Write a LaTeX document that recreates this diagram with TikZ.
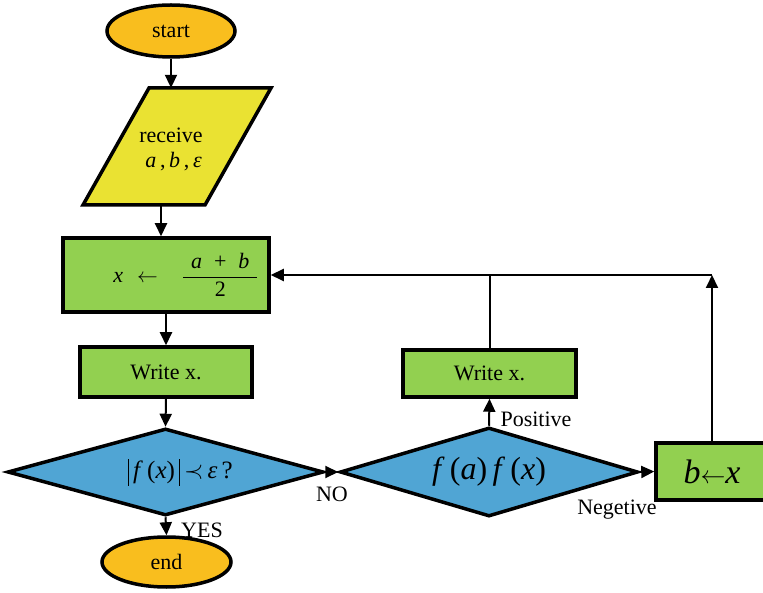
\documentclass[tikz,border=0pt]{standalone}
\usepackage{fontspec}
\setmainfont{Liberation Serif}
\usetikzlibrary{shapes.geometric,arrows.meta}

\definecolor{termcol}{RGB}{249,190,30}
\definecolor{iocol}{RGB}{234,226,50}
\definecolor{proccol}{RGB}{146,208,80}
\definecolor{deccol}{RGB}{80,165,212}

\newcommand{\mi}[1]{\textit{#1}}

\begin{document}
\begin{tikzpicture}[x=1pt,y=-1pt,
  font=\fontsize{22}{26}\selectfont,
  shapeline/.style={draw=black,line width=3.5pt},
  term/.style={shapeline,ellipse,fill=termcol,inner sep=0pt},
  procbox/.style={shapeline,rectangle,fill=proccol,inner sep=0pt},
  decision/.style={shapeline,diamond,fill=deccol,inner sep=0pt},
  arr/.style={line width=2pt,-{Triangle[length=13pt,width=12pt]}},
  link/.style={line width=2pt},
  tag/.style={inner sep=0pt}]

% page frame
\useasboundingbox (0,0) rectangle (763,593);
\fill[white] (0,0) rectangle (763,593);
\clip (0,0) rectangle (763,593);

% start terminal
\node[term,minimum width=128pt,minimum height=52pt] (start) at (171,31) {start};

% input parallelogram
\coordinate (pBL) at (83,205);
\coordinate (pBR) at (205,205);
\coordinate (pTR) at (271,88);
\coordinate (pTL) at (149,88);
\filldraw[shapeline,fill=iocol,line join=miter] (pBL) -- (pBR) -- (pTR) -- (pTL) -- cycle;
\node[inner sep=0pt,minimum height=117pt,minimum width=10pt] (in) at (171,146.5) {};
\node[tag,align=center] (intext) at (171,149) {receive\\[-1pt]\hspace*{5pt}\mi{a}\,,\,\mi{b}\,,\,\mi{ε}};

% midpoint update
\node[procbox,minimum width=206pt,minimum height=74pt] (mid) at (166,275)
  {\hspace*{40pt}\mi{x}\hspace{14pt}$\leftarrow$\hspace{24pt}$\displaystyle\frac{\hspace*{8pt}\mbox{\mi{a}\hspace{12pt}+\hspace{12pt}\mi{b}}\hspace*{8pt}}{\mbox{2}}$};

% first output
\node[procbox,minimum width=172pt,minimum height=50pt] (out1) at (166,372) {Write x.};

% stopping test
\node[decision,aspect=3.6,minimum width=316pt,minimum height=87pt] (test) at (165.5,472)
  {\fontsize{25}{30}\selectfont\hspace*{30pt}\vrule height 20pt depth 7pt width 0.9pt\,\mi{f}\,(\mi{x})\,\vrule height 20pt depth 7pt width 0.9pt\,$\prec$\,\mi{ε}\,?};

% end terminal
\node[term,minimum width=129pt,minimum height=50pt] (end) at (166.5,562) {end};

% sign test
\node[decision,aspect=3.35,minimum width=298pt,minimum height=89pt] (sign) at (489,472)
  {\fontsize{32}{36}\selectfont\mi{f}\,(\mi{a})\,\mi{f}\,(\mi{x})};

% second output
\node[procbox,minimum width=173pt,minimum height=47pt] (out2) at (489.5,373.5) {Write x.};

% b update
\node[procbox,minimum width=112pt,minimum height=57pt] (bupd) at (712,471.5)
  {\fontsize{34}{38}\selectfont\mi{b}$\leftarrow$\mi{x}};

% connectors
\draw[arr] (start.south) -- (start.south |- in.north);
\draw[arr] ([xshift=-10pt]in.south) -- ([xshift=-10pt]in.south |- mid.north);
\draw[arr] (mid.south) -- (out1.north);
\draw[arr] (out1.south) -- (test.north);
\draw[arr] (test.south) -- (end.north);
\draw[arr] (test.east) -- (sign.west);
\draw[arr] (sign.north) -- (out2.south);
\draw[arr] (sign.east) -- (bupd.west);

\coordinate (ret) at (bupd.north |- mid.east);
\draw[arr] (bupd.north) -- (ret);
\draw[arr] (ret) -- (mid.east);
\draw[link] (out2.north) -- (out2.north |- mid.east);

% branch labels
\node[tag] (yes) at (202,530) {YES};
\node[tag] (no) at (332,494) {NO};
\node[tag] (pos) at (536,419) {Positive};
\node[tag] (neg) at (617,510) {Negetive};
\end{tikzpicture}
\end{document}
